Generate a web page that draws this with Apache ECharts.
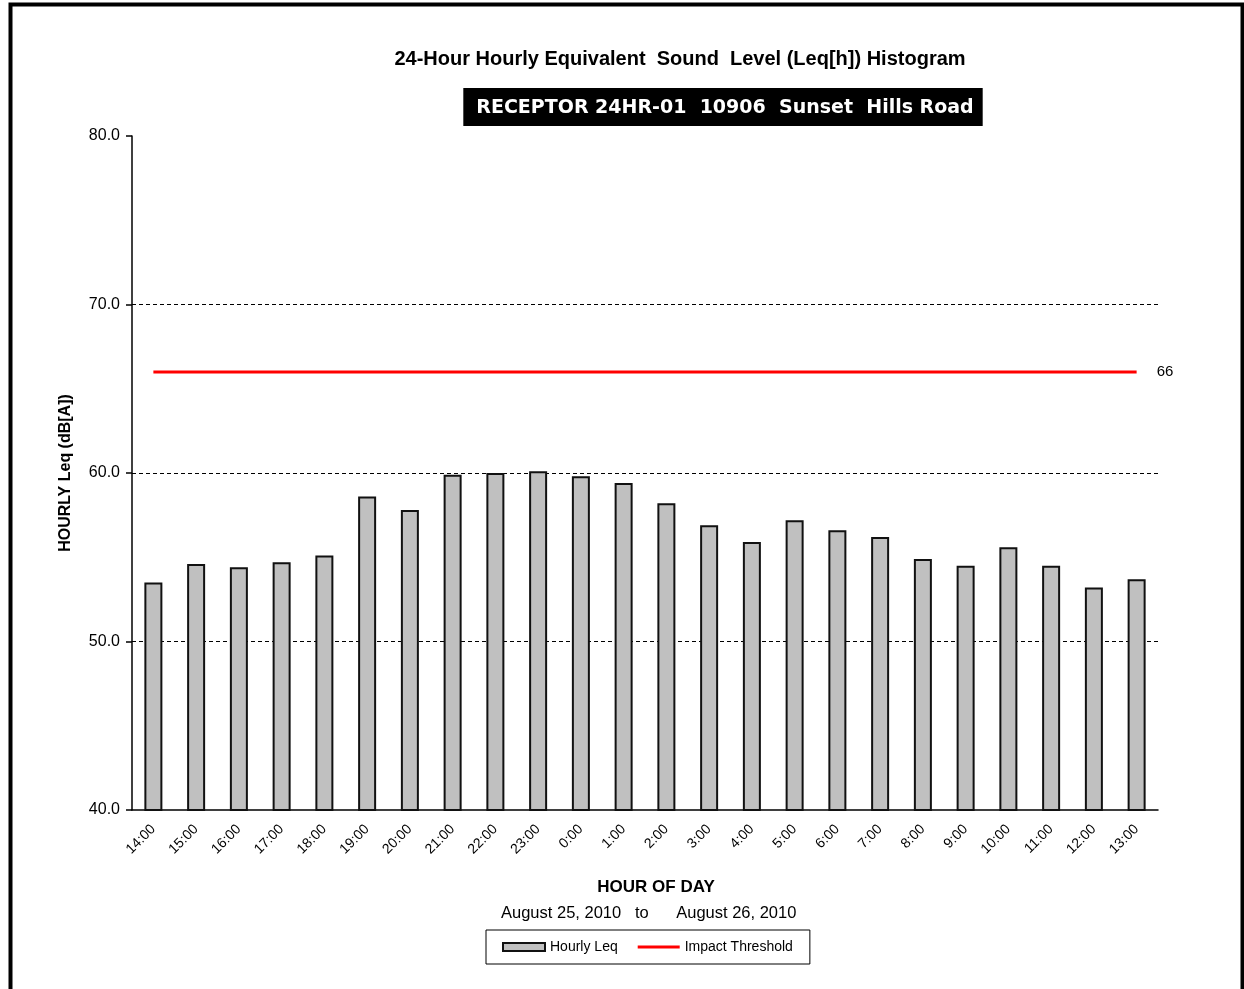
<!DOCTYPE html>
<html>
  <head>
    <meta charset="utf-8" />
    <title>Leq Histogram</title>
    <script src="https://cdn.jsdelivr.net/npm/echarts@6.0.0/dist/echarts.min.js"></script>
    <style>
      html, body { margin: 0; padding: 0; background: #fff; }
      #chart { width: 1244px; height: 989px; }
    </style>
  </head>
  <body>
    <div id="chart"></div>
    <script type="text/javascript">
      const hours = ['14:00', '15:00', '16:00', '17:00', '18:00', '19:00', '20:00', '21:00',
        '22:00', '23:00', '0:00', '1:00', '2:00', '3:00', '4:00', '5:00', '6:00', '7:00',
        '8:00', '9:00', '10:00', '11:00', '12:00', '13:00'];
      const hourlyLeq = [53.5, 54.6, 54.4, 54.7, 55.1, 58.6, 57.8, 59.9, 60.0, 60.1, 59.8, 59.4,
        58.2, 56.9, 55.9, 57.2, 56.6, 56.2, 54.9, 54.5, 55.6, 54.5, 53.2, 53.7];
      const threshold = hours.map(() => 66);

      const font = 'Liberation Sans, Arial, sans-serif';
      const chart = echarts.init(document.getElementById('chart'));

      chart.setOption({
        animation: false,
        textStyle: { fontFamily: font, color: '#000' },
        title: [
          {
            text: '24-Hour Hourly Equivalent  Sound  Level (Leq[h]) Histogram',
            left: 675, top: 44, textAlign: 'center',
            textStyle: { fontSize: 20, fontWeight: 'bold', color: '#000', fontFamily: font }
          },
          {
            text: 'RECEPTOR 24HR-01  10906  Sunset  Hills Road',
            left: 712, top: 88, textAlign: 'center',
            backgroundColor: '#000',
            padding: [11, 9, 8, 13],
            textStyle: { fontSize: 19, fontWeight: 'bold', color: '#fff', fontFamily: 'DejaVu Sans' }
          }
        ],
        legend: {
          left: 486, top: 930,
          padding: [10, 17, 10, 16],
          borderColor: '#000', borderWidth: 1,
          itemWidth: 42, itemHeight: 8, itemGap: 20,
          textStyle: { fontSize: 14, color: '#000', fontFamily: font },
          data: [
            { name: 'Hourly Leq', icon: 'rect' },
            { name: 'Impact Threshold', icon: 'path://M0,0 L40,0 L40,3 L0,3 Z' }
          ]
        },
        grid: { left: 132, right: 86, top: 136, bottom: 179 },
        xAxis: {
          type: 'category',
          data: hours,
          axisLine: { lineStyle: { color: '#000', width: 1.5 } },
          axisTick: { length: 6, lineStyle: { color: '#000', width: 1.5 } },
          axisLabel: { rotate: 45, fontSize: 14, color: '#000', margin: 17 }
        },
        yAxis: {
          type: 'value',
          min: 40, max: 80, interval: 10,
          name: 'HOURLY Leq (dB[A])',
          nameLocation: 'middle',
          nameGap: 58,
          nameTextStyle: { fontSize: 16, fontWeight: 'bold', color: '#000', fontFamily: font },
          axisLine: { show: true, lineStyle: { color: '#000', width: 1.5 } },
          axisTick: { show: true, length: 6, lineStyle: { color: '#000', width: 1.5 } },
          axisLabel: { fontSize: 16, color: '#000', margin: 12, formatter: v => v.toFixed(1) },
          splitLine: {
            show: true, showMinLine: false, showMaxLine: false,
            lineStyle: { color: '#000', type: [4, 3], width: 1.2 }
          }
        },
        series: [
          {
            name: 'Hourly Leq',
            type: 'bar',
            data: hourlyLeq,
            barWidth: 18,
            itemStyle: { color: '#c0c0c0', borderColor: '#111', borderWidth: 2 }
          },
          {
            name: 'Impact Threshold',
            type: 'line',
            data: threshold,
            symbol: 'none',
            lineStyle: { color: '#ff0000', width: 3 },
            itemStyle: { color: '#ff0000' },
            endLabel: { show: true, formatter: '66', color: '#000', fontSize: 15, distance: 20 }
          }
        ],
        graphic: [
          {
            type: 'text', x: 656, y: 879,
            style: { text: 'HOUR OF DAY', align: 'center', fontSize: 17, fontWeight: 'bold', fill: '#000', fontFamily: font }
          },
          {
            type: 'text', x: 501, y: 905,
            style: { text: 'August 25, 2010   to      August 26, 2010', fontSize: 16.5, fill: '#000', fontFamily: font }
          },
          {
            type: 'rect', left: 8, top: 2,
            shape: { width: 1232, height: 1000 },
            style: { fill: 'none', stroke: '#000', lineWidth: 4 }
          }
        ]
      });
    </script>
  </body>
</html>
